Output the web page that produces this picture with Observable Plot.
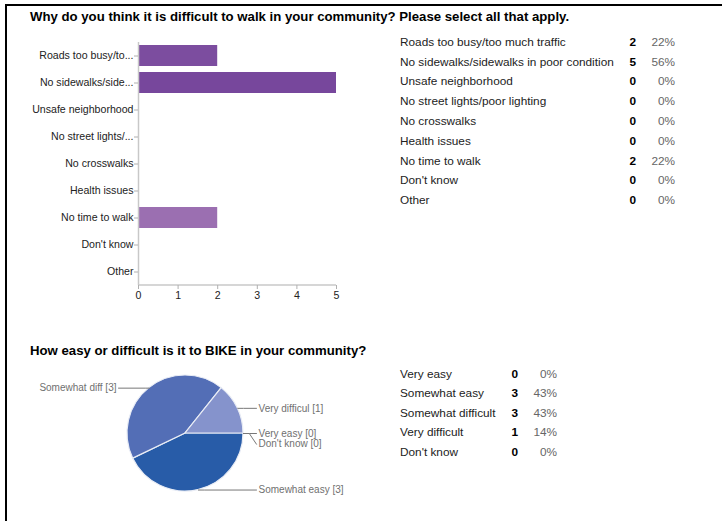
<!DOCTYPE html>
<html>
<head>
<meta charset="utf-8">
<script src="https://cdn.jsdelivr.net/npm/d3@7"></script>
<script src="https://cdn.jsdelivr.net/npm/@observablehq/plot@0.6"></script>
<style>
  html, body { margin: 0; padding: 0; background: #fff; }
  #root { position: relative; width: 722px; height: 521px; overflow: hidden; font-family: "Liberation Sans", Arial, sans-serif; }
  #frame { position: absolute; left: 5px; top: 4px; width: 730px; height: 530px; border-left: 2px solid #000; border-top: 2px solid #000; }
  .title { position: absolute; left: 30px; font-weight: bold; font-size: 13.2px; line-height: 16px; color: #000; white-space: nowrap; }
  .row { position: absolute; font-size: 11.8px; line-height: 16px; white-space: nowrap; }
  .lab { color: #222; }
  .cnt { font-weight: bold; color: #000; text-align: right; }
  .pct { color: #666; text-align: right; }
  .chart { position: absolute; left: 0; }
</style>
</head>
<body>
<div id="root">
  <div id="frame"></div>
  <div class="title" style="top:9px">Why do you think it is difficult to walk in your community? Please select all that apply.</div>
  <div class="title" style="top:343px">How easy or difficult is it to BIKE in your community?</div>
  <div id="bars" class="chart" style="top:0px"></div>
  <div id="pie" class="chart" style="top:345px"></div>
</div>
<script>
// ---- Walk data ----
const walkCategories = ["Roads too busy/too much traffic", "No sidewalks/sidewalks in poor condition", "Unsafe neighborhood", "No street lights/poor lighting", "No crosswalks", "Health issues", "No time to walk", "Don't know", "Other"];
const walkAxisLabels = ["Roads too busy/to...", "No sidewalks/side...", "Unsafe neighborhood", "No street lights/...", "No crosswalks", "Health issues", "No time to walk", "Don't know", "Other"];
const walkCounts = [2, 5, 0, 0, 0, 0, 2, 0, 0];
const walkPercents = ["22%", "56%", "0%", "0%", "0%", "0%", "22%", "0%", "0%"];
const walkColors = ["#7c4d9f", "#77479c", "#9b6fb1", "#7c4d9f", "#7c4d9f", "#7c4d9f", "#9b6fb1", "#7c4d9f", "#7c4d9f"];
const walkTicks = [0, 1, 2, 3, 4, 5];

// ---- Bike data ----
const bikeCategories = ["Very easy", "Somewhat easy", "Somewhat difficult", "Very difficult", "Don't know"];
const bikePieLabels = ["Very easy [0]", "Somewhat easy [3]", "Somewhat diff [3]", "Very difficul [1]", "Don't know [0]"];
const bikeCounts = [0, 3, 3, 1, 0];
const bikePercents = ["0%", "43%", "43%", "14%", "0%"];
const bikeColors = ["#3a6fc4", "#285ca8", "#536eb6", "#8593cc", "#6f8fd0"];

const root = document.getElementById("root");

// ---- Tables ----
function addTable(cats, counts, pcts, top0, step, labX, cntRight, pctRight) {
  cats.forEach((c, i) => {
    const top = top0 + i * step - 8;
    const a = document.createElement("div");
    a.className = "row lab"; a.style.left = labX + "px"; a.style.top = top + "px"; a.textContent = c;
    const b = document.createElement("div");
    b.className = "row cnt"; b.style.left = (cntRight - 30) + "px"; b.style.width = "30px"; b.style.top = top + "px"; b.textContent = counts[i];
    const p = document.createElement("div");
    p.className = "row pct"; p.style.left = (pctRight - 40) + "px"; p.style.width = "40px"; p.style.top = top + "px"; p.textContent = pcts[i];
    root.append(a, b, p);
  });
}
addTable(walkCategories, walkCounts, walkPercents, 41.7, 19.8, 400, 636, 675);
addTable(bikeCategories, bikeCounts, bikePercents, 374, 19.4, 400, 518, 557);

// ---- Bar chart ----
const walkData = walkCategories.map((c, i) => ({category: c, count: walkCounts[i], color: walkColors[i], short: walkAxisLabels[i]}));
const shortOf = new Map(walkData.map(d => [d.category, d.short]));

const barPlot = Plot.plot({
  width: 360,
  height: 318,
  marginLeft: 138,
  marginRight: 24,
  marginTop: 42,
  marginBottom: 33,
  style: {fontFamily: "'Liberation Sans', Arial, sans-serif", fontSize: "10.6px", color: "#222", background: "transparent"},
  x: {domain: [0, 5], axis: null, label: null},
  y: {domain: walkCategories, paddingInner: 0.21, paddingOuter: 0.1, axis: null, label: null},
  marks: [
    Plot.barX(walkData, {x: "count", y: "category", fill: "color"}),
    Plot.ruleX([0], {stroke: "#c8c8c8", strokeWidth: 1.5}),
    (index, scales, values, dims) => {
      const line = document.createElementNS("http://www.w3.org/2000/svg", "line");
      line.setAttribute("x1", scales.x(0)); line.setAttribute("x2", scales.x(5));
      line.setAttribute("y1", dims.height - dims.marginBottom); line.setAttribute("y2", dims.height - dims.marginBottom);
      line.setAttribute("stroke", "#c8c8c8"); line.setAttribute("stroke-width", 1.5);
      return line;
    },
    Plot.axisY({tickSize: 4, tickPadding: 1, stroke: "#b0b0b0", fill: "#222", tickFormat: d => shortOf.get(d), label: null, fontSize: 10.6}),
    Plot.axisX({ticks: walkTicks, tickSize: 4, tickPadding: 2, stroke: "#b0b0b0", fill: "#222", tickFormat: d3.format("d"), label: null, fontSize: 10.6})
  ]
});
document.getElementById("bars").append(barPlot);

// ---- Pie chart ----
const bikeData = bikeCategories.map((c, i) => ({category: c, count: bikeCounts[i], color: bikeColors[i], label: bikePieLabels[i], order: i}));
const arcs = d3.pie().sort(null).value(d => d.count).startAngle(Math.PI / 2).endAngle(Math.PI / 2 + 2 * Math.PI)(bikeData);

// label positions in unit-circle coordinates (y up)
const labelGap = 0.185;
const labels = arcs.map(a => {
  const mid = (a.startAngle + a.endAngle) / 2;
  const ex = Math.round(Math.sin(mid) * 1e6) / 1e6, ey = Math.round(Math.cos(mid) * 1e6) / 1e6;
  return {label: a.data.label, order: a.data.order, mid, ex, ey, side: ex >= 0 ? 1 : -1, ly: ey};
});
for (const side of [1, -1]) {
  const group = labels.filter(l => l.side === side).sort((a, b) => (b.ly - a.ly) || (a.order - b.order));
  for (let i = 1; i < group.length; i++) {
    if (group[i - 1].ly - group[i].ly < labelGap) group[i].ly = group[i - 1].ly - labelGap;
  }
}
const leaderPoints = [];
labels.forEach((l, i) => {
  leaderPoints.push({id: i, x: l.ex, y: l.ey});
  leaderPoints.push({id: i, x: l.ex + (l.side > 0 ? 0.1 : -0.06), y: l.ey});
  leaderPoints.push({id: i, x: l.side > 0 ? 1.224 : -1.155, y: l.ly});
});
labels.forEach(l => { l.tx = l.side > 0 ? 1.259 : -1.19; });

const piePlot = Plot.plot({
  width: 400,
  height: 176,
  margin: 0,
  style: {fontFamily: "'Liberation Sans', Arial, sans-serif", fontSize: "10px", background: "transparent"},
  x: {domain: [-1, 1], range: [127, 243], axis: null},
  y: {domain: [-1, 1], range: [146, 30], axis: null},
  marks: [
    (index, scales) => {
      const cx = scales.x(0), cy = scales.y(0), r = scales.x(1) - scales.x(0);
      const g = d3.create("svg:g").attr("transform", `translate(${cx},${cy})`);
      g.selectAll("path")
        .data(arcs.filter(a => a.data.count > 0))
        .join("path")
        .attr("d", d3.arc().innerRadius(0).outerRadius(r))
        .attr("fill", d => d.data.color)
        .attr("stroke", "#e8ecf5")
        .attr("stroke-width", 1.2);
      return g.node();
    },
    Plot.line(leaderPoints, {x: "x", y: "y", z: "id", stroke: "#777", strokeWidth: 1, curve: "linear"}),
    Plot.text(labels.filter(l => l.side > 0), {x: "tx", y: "ly", text: "label", textAnchor: "start", fill: "#707070", fontSize: 10}),
    Plot.text(labels.filter(l => l.side < 0), {x: "tx", y: "ly", text: "label", textAnchor: "end", fill: "#707070", fontSize: 10})
  ]
});
document.getElementById("pie").append(piePlot);
</script>
</body>
</html>
